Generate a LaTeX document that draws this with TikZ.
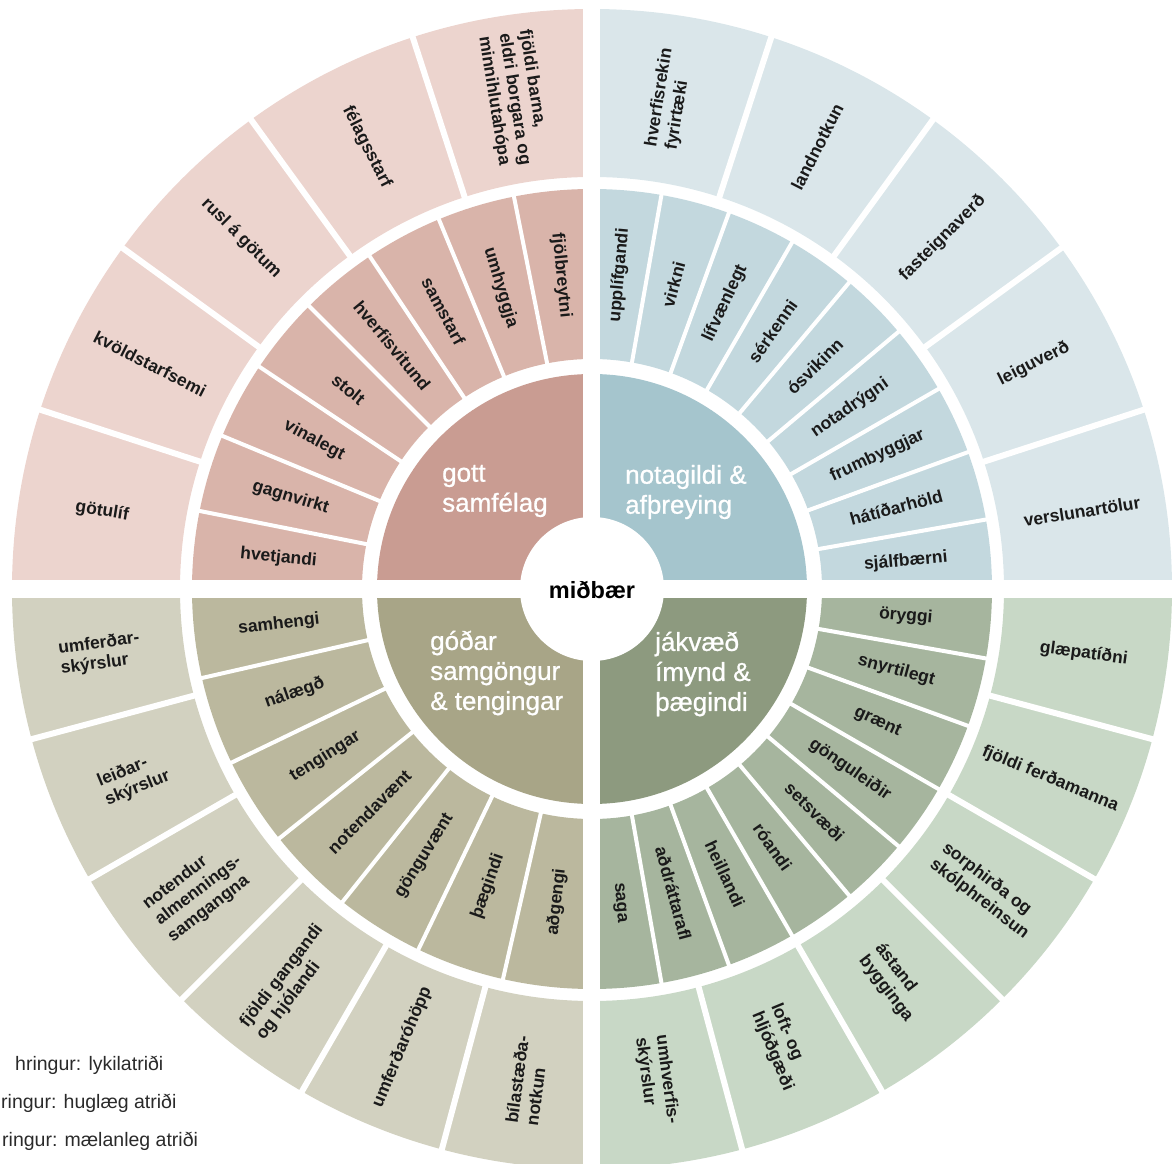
\documentclass[tikz,border=0pt]{standalone}
\usepackage{fontspec}
\setmainfont{Liberation Sans}
\newfontfamily\titlefont[FakeBold=0.9]{Liberation Sans}
\definecolor{pkO}{HTML}{ECD4CE}
\definecolor{pkM}{HTML}{D9B4AA}
\definecolor{pkI}{HTML}{C99C92}
\definecolor{blO}{HTML}{DAE6EA}
\definecolor{blM}{HTML}{C3D8DE}
\definecolor{blI}{HTML}{A5C5CD}
\definecolor{olO}{HTML}{D2D1C0}
\definecolor{olM}{HTML}{BBB89E}
\definecolor{olI}{HTML}{A8A587}
\definecolor{grO}{HTML}{C8D8C6}
\definecolor{grM}{HTML}{A6B59E}
\definecolor{grI}{HTML}{8D9A7F}
\definecolor{txtc}{HTML}{1A1A1A}
\definecolor{legc}{HTML}{2A2A2A}
\newcommand\segfill[5]{%
  \fill[#1] (#2:#4) arc[start angle=#2, end angle=#3, radius=#4] -- (#3:#5) arc[start angle=#3, end angle=#2, radius=#5] -- cycle;}
\begin{document}
\begin{tikzpicture}[x=1pt,y=1pt,
  lbl/.style={font=\bfseries\fontsize{17.5}{20.5}\selectfont, text=txtc, align=left, inner sep=0pt},
  ttl/.style={font=\titlefont\fontsize{26}{30}\selectfont, text=white, align=left, anchor=west, inner sep=0pt},
  leg/.style={font=\fontsize{19.5}{22}\selectfont, text=legc, anchor=west, inner sep=0pt},
  sepM/.style={white, line width=4pt},
  sepO/.style={white, line width=6pt}]
\useasboundingbox (-592,-575) rectangle (584,589);

% inner quarter discs
\fill[pkI] (0,0) -- (90:215) arc[start angle=90, end angle=180, radius=215] -- cycle;
\fill[blI] (0,0) -- (0:215) arc[start angle=0, end angle=90, radius=215] -- cycle;
\fill[olI] (0,0) -- (180:215) arc[start angle=180, end angle=270, radius=215] -- cycle;
\fill[grI] (0,0) -- (270:215) arc[start angle=270, end angle=360, radius=215] -- cycle;

% middle ring
\segfill{pkM}{90}{180}{230}{400}
\segfill{blM}{0}{90}{230}{400}
\segfill{olM}{180}{270}{230}{400}
\segfill{grM}{270}{360}{230}{400}
% outer ring
\segfill{pkO}{90}{180}{412}{580}
\segfill{blO}{0}{90}{412}{580}
\segfill{olO}{180}{270}{412}{580}
\segfill{grO}{270}{360}{412}{580}

% separators middle ring
\foreach \k in {1,...,7} {\draw[sepM] ({90+11.25*\k}:226) -- ({90+11.25*\k}:404);}
\foreach \k in {1,...,8} {\draw[sepM] ({10*\k}:226) -- ({10*\k}:404);}
\foreach \k in {1,...,8} {\draw[sepM] ({-10*\k}:226) -- ({-10*\k}:404);}
\foreach \k in {1,...,6} {\draw[sepM] ({180+90/7*\k}:226) -- ({180+90/7*\k}:404);}
% separators outer ring
\foreach \k in {1,...,4} {\draw[sepO] ({90+18*\k}:408) -- ({90+18*\k}:584);}
\foreach \k in {1,...,4} {\draw[sepO] ({18*\k}:408) -- ({18*\k}:584);}
\foreach \k in {1,...,5} {\draw[sepO] ({-15*\k}:408) -- ({-15*\k}:584);}
\foreach \k in {1,...,5} {\draw[sepO] ({180+15*\k}:408) -- ({180+15*\k}:584);}

% white cross
\fill[white] (-8.5,-600) rectangle (8.5,600);
\fill[white] (-600,-9) rectangle (600,9);
% centre
\fill[white] (0,0) circle[radius=72];
\node[font=\bfseries\fontsize{23.5}{26}\selectfont, text=black, inner sep=0pt] (center) at (0,-1) {miðbær};

% quadrant titles
\node[ttl] (tq1) at (-150,98) {gott\\samfélag};
\node[ttl] (tq2) at (33,97) {notagildi \&\\afþreying};
\node[ttl] (tq3) at (-162,-84) {góðar\\samgöngur\\\& tengingar};
\node[ttl] (tq4) at (63,-85) {jákvæð\\ímynd \&\\þægindi};

% top-left
\foreach \a/\t [count=\i] in {174.375/hvetjandi, 163.125/gagnvirkt, 151.875/vinalegt, 140.625/stolt, 129.375/hverfisvitund, 118.125/samstarf, 106.875/umhyggja, 95.625/fjölbreytni}
  {\node[lbl, rotate=\a-180] (tlm\i) at (\a:315) {\t};}
\foreach \a/\t [count=\i] in {171/götulíf, 153/kvöldstarfsemi, 135/rusl á götum, 117/félagsstarf, 99/{fjöldi barna,\\eldri borgara og\\minnihlutahópa}}
  {\node[lbl, rotate=\a-180] (tlo\i) at (\a:496) {\t};}
% top-right
\foreach \a/\t [count=\i] in {85/upplífgandi, 75/virkni, 65/lífvænlegt, 55/sérkenni, 45/ósvikinn, 35/notadrýgni, 25/frumbyggjar, 15/hátíðarhöld, 5/sjálfbærni}
  {\node[lbl, rotate=\a] (trm\i) at (\a:315) {\t};}
\foreach \a/\t [count=\i] in {81/{hverfisrekin\\fyrirtæki}, 63/landnotkun, 45/fasteignaverð, 27/leiguverð, 9/verslunartölur}
  {\node[lbl, rotate=\a] (tro\i) at (\a:496) {\t};}
% bottom-right
\foreach \a/\t [count=\i] in {-5/öryggi, -15/snyrtilegt, -25/grænt, -35/gönguleiðir, -45/setsvæði, -55/róandi, -65/heillandi, -75/aðdráttarafl, -85/saga}
  {\node[lbl, rotate=\a] (brm\i) at (\a:315) {\t};}
\foreach \a/\t [count=\i] in {-7.5/glæpatíðni, -22.5/fjöldi ferðamanna, -37.5/{sorphirða og\\skólphreinsun}, -52.5/{ástand\\bygginga}, -67.5/{loft- og\\hljóðgæði}, -82.5/{umhverfis-\\skýrslur}}
  {\node[lbl, rotate=\a] (bro\i) at (\a:496) {\t};}
% bottom-left
\foreach \a/\t [count=\i] in {186.4286/samhengi, 199.2857/nálægð, 212.1429/tengingar, 225/notendavænt, 237.8571/gönguvænt, 250.7143/þægindi, 263.5714/aðgengi}
  {\node[lbl, rotate=\a-180] (blm\i) at (\a:315) {\t};}
\foreach \a/\t [count=\i] in {187.5/{umferðar-\\skýrslur}, 202.5/{leiðar-\\skýrslur}, 217.5/{notendur\\almennings-\\samgangna}, 232.5/{fjöldi gangandi\\og hjólandi}, 247.5/umferðaróhöpp, 262.5/{bílastæða-\\notkun}}
  {\node[lbl, rotate=\a-180] (blo\i) at (\a:496) {\t};}

% legend
\node[leg] (lg1) at (-577,-476) {hringur: lykilatriði};
\node[leg] (lg2) at (-591,-514) {ringur: huglæg atriði};
\node[leg] (lg3) at (-590,-552) {ringur: mælanleg atriði};
\end{tikzpicture}
\end{document}
